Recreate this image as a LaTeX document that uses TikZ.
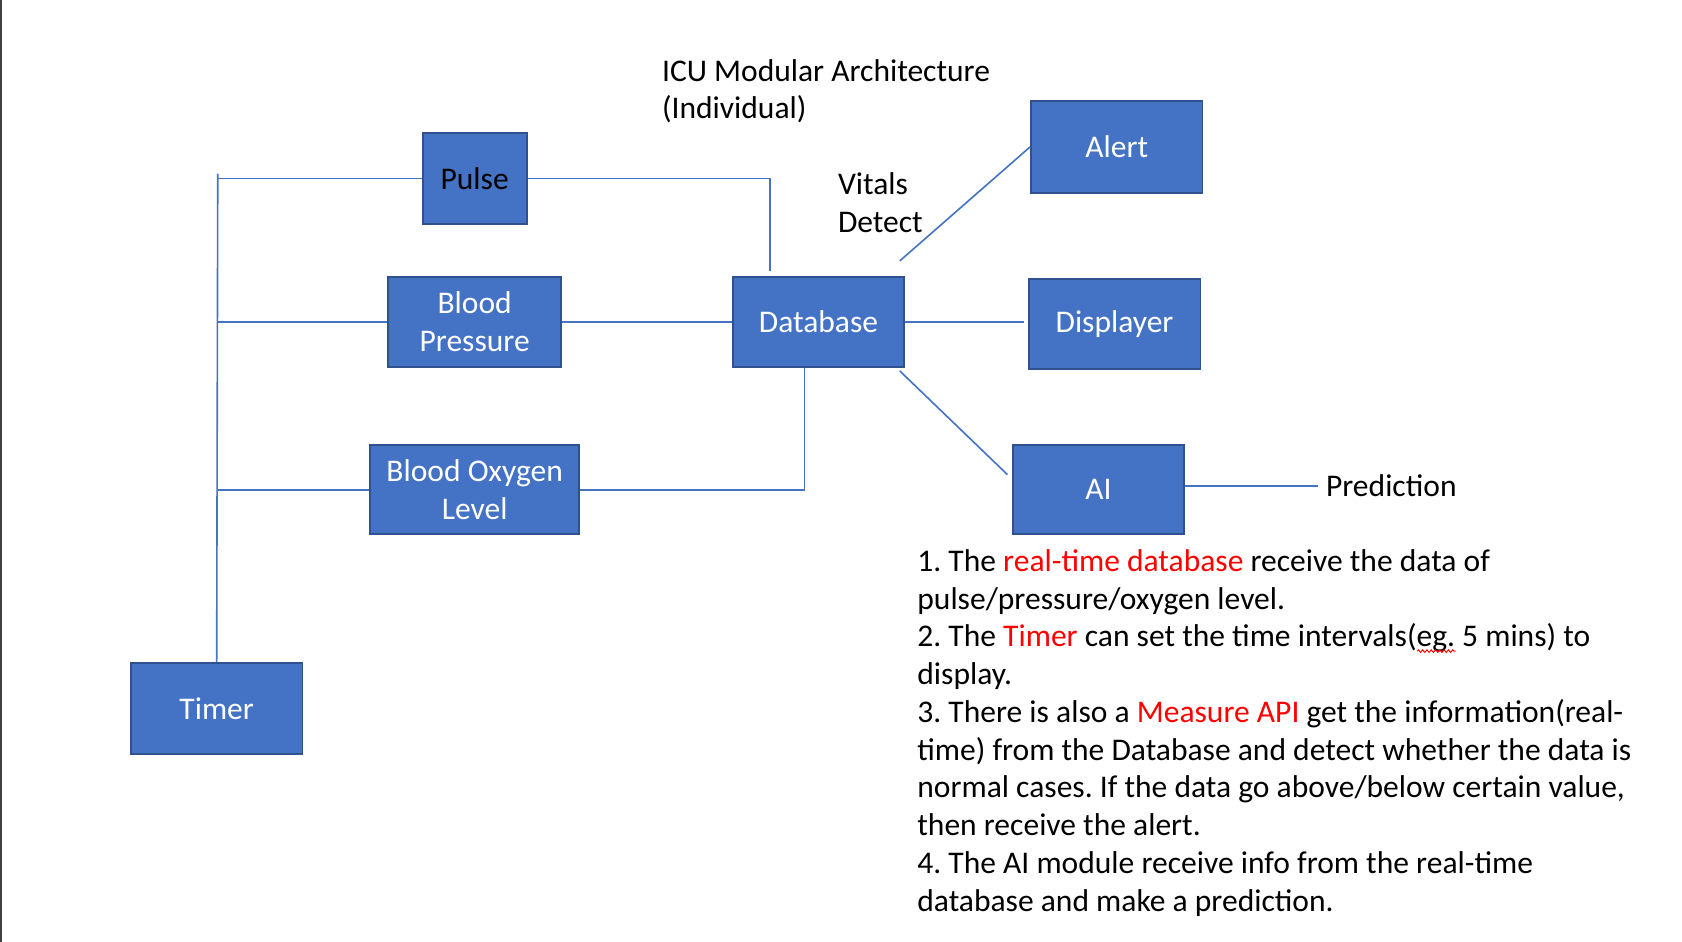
\documentclass[tikz,border=0pt]{standalone}
\usepackage{fontspec}
\setmainfont{Carlito}
\usetikzlibrary{decorations.pathmorphing}
\definecolor{boxblue}{HTML}{4472C4}
\definecolor{boxedge}{HTML}{2F528F}
\definecolor{linkblue}{HTML}{4472C4}
\definecolor{redtext}{HTML}{FF0000}
\newcommand{\rd}[1]{\textcolor{redtext}{#1}}
\frenchspacing
\begin{document}
\begin{tikzpicture}[x=1pt,y=-1pt,
  txt/.style={font=\fontsize{29.4}{35.2}\selectfont, inner sep=0pt},
  box/.style={txt, draw=boxedge, fill=boxblue, line width=1.6pt, text=white, align=center},
  link/.style={draw=linkblue, line width=1.5pt}]
\useasboundingbox (0,0) rectangle (1568,878);
\fill[white] (0,0) rectangle (1568,878);
\fill[black!75] (0,0) rectangle (2,878);

% boxes
\node[box, text=black, minimum width=97pt, minimum height=85pt] (Pulse) at (442.5,166.5) {Pulse};
\node[box, minimum width=161pt, minimum height=84pt] (BP) at (442.5,300) {Blood\\Pressure};
\node[box, minimum width=195pt, minimum height=83pt] (BO) at (442.5,456.5) {Blood Oxygen\\Level};
\node[box, minimum width=160pt, minimum height=85pt] (Timer) at (202,660.5) {Timer};
\node[box, minimum width=160pt, minimum height=84pt] (Database) at (763,300) {Database};
\node[box, minimum width=160pt, minimum height=86pt] (Alert) at (1041,137) {Alert};
\node[box, minimum width=160pt, minimum height=84pt] (Displayer) at (1039,302) {Displayer};
\node[box, minimum width=160pt, minimum height=83pt] (AI) at (1024,456.5) {AI};

% texts
\node[txt, anchor=west, align=left] (Title) at (617,85) {ICU Modular Architecture\\(Individual)};
\node[txt, anchor=west, align=left] (Vitals) at (781,189) {Vitals\\Detect};
\node[txt, anchor=west, inner xsep=7pt] (Prediction) at (1229,453) {Prediction};
\node[txt, anchor=north west, align=left] (Notes) at (855,512) {%
1. The \rd{real-time database} receive the data of\\
pulse/pressure/oxygen level.\\
2. The \rd{Timer} can set the time intervals(eg. 5 mins) to\\
display.\\
3. There is also a \rd{Measure API} get the information(real-\\
time) from the Database and detect whether the data is\\
normal cases. If the data go above/below certain value,\\
then receive the alert.\\
4. The AI module receive info from the real-time\\
database and make a prediction.};
\coordinate (wavA) at (1321,607);
\coordinate (wavB) at (1357,607);
\draw[redtext, line width=0.9pt, decorate, decoration={snake, amplitude=1.2pt, segment length=4pt}] (wavA) -- (wavB);

% bus
\coordinate (bTop) at (203,162);
\draw[link] (bTop) -- (Timer.north);
\draw[link] (Pulse.west) -- (Pulse.west -| bTop);
\draw[link] (BP.west) -- (BP.west -| bTop);
\draw[link] (BO.west) -- (BO.west -| bTop);

% to database
\coordinate (pEnd) at ([xshift=-45pt,yshift=5pt]Database.north);
\draw[link] (Pulse.east) -- (Pulse.east -| pEnd) -- (pEnd);
\draw[link] (BP.east) -- (Database.west);
\coordinate (oEnd) at ([xshift=-13pt]Database.south);
\draw[link] (BO.east) -- (BO.east -| oEnd) -- (oEnd);

% from database
\coordinate (dEnd) at ([xshift=-4pt]Displayer.west |- Database.east);
\draw[link] (Database.east) -- (dEnd);
\coordinate (aStart) at ([xshift=-5pt,yshift=14pt]Database.north east);
\draw[link] (aStart) -- (Alert.west);
\coordinate (iStart) at ([xshift=-5pt,yshift=-3pt]Database.south east);
\coordinate (iEnd) at ([xshift=-4pt,yshift=14pt]AI.west);
\draw[link] (iStart) -- (iEnd);
\draw[link] (AI.east |- Prediction.west) -- (Prediction.west);
\end{tikzpicture}
\end{document}
